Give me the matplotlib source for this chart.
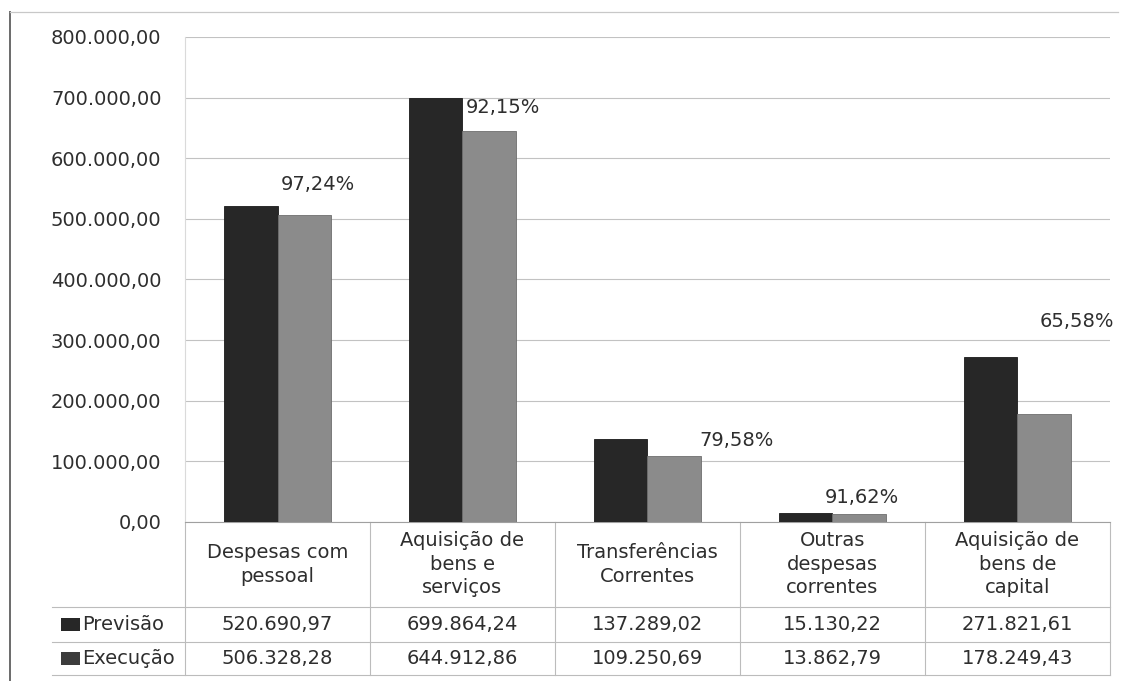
import numpy as np
import matplotlib
matplotlib.use("Agg")
import matplotlib.pyplot as plt
from matplotlib.patches import Rectangle
from matplotlib.lines import Line2D

categories = ["Despesas com\npessoal", "Aquisição de\nbens e\nserviços", "Transferências\nCorrentes",
              "Outras\ndespesas\ncorrentes", "Aquisição de\nbens de\ncapital"]
previsao = [520690.97, 699864.24, 137289.02, 15130.22, 271821.61]
execucao = [506328.28, 644912.86, 109250.69, 13862.79, 178249.43]
percent_labels = ["97,24%", "92,15%", "79,58%", "91,62%", "65,58%"]
series_names = ["Previsão", "Execução"]


def fmt(v):
    s = f"{v:,.2f}"
    return s.replace(",", "X").replace(".", ",").replace("X", ".")


plt.rcParams['font.family'] = ['DejaVu Sans']
fs = 14
txt = '#2e2e2e'
dark = '#272727'
grey = '#8b8b8b'
grid_c = '#c2c2c2'

fig = plt.figure(figsize=(11.24, 6.81), dpi=100)
ax = fig.add_axes([0.1646, 0.2335, 0.8229, 0.7122])

x = np.arange(len(categories))
w = 0.29
ax.bar(x - w / 2, previsao, w, color=dark, edgecolor='#1a1a1a', linewidth=0.6, zorder=3)
ax.bar(x + w / 2, execucao, w, color=grey, edgecolor='#6e6e6e', linewidth=0.6, zorder=3)

# percentage labels (hand-placed in the original)
lab_dx = [0.22, 0.22, 0.48, 0.16, 0.32]
lab_y = [556000, 683000, 135000, 41000, 330000]
for i, p in enumerate(percent_labels):
    ax.text(x[i] + lab_dx[i], lab_y[i], p, ha='center', va='center', fontsize=fs, color=txt)

ax.set_xlim(-0.5, len(categories) - 0.5)
ax.set_ylim(0, 800000)
ax.set_yticks(np.arange(0, 800001, 100000))
ax.set_yticklabels([fmt(v) for v in np.arange(0, 800001, 100000)], fontsize=fs, color=txt)
ax.tick_params(axis='y', length=0, pad=17)
ax.set_xticks([])
ax.grid(axis='y', color=grid_c, linewidth=0.8, zorder=0)
for s in ['top', 'right']:
    ax.spines[s].set_visible(False)
ax.spines['left'].set_color('#dadada')
ax.spines['bottom'].set_color('#a0a0a0')

# data table below the plot
rows_y = [0.0, -0.175, -0.247, -0.315]
tr = ax.get_xaxis_transform()
line_kw = dict(color='#bcbcbc', linewidth=0.8, transform=tr, clip_on=False)
for yv in rows_y[1:]:
    ax.add_line(Line2D([-1.22, len(categories) - 0.5], [yv, yv], **line_kw))
for b in np.arange(-0.5, len(categories), 1.0):
    ax.add_line(Line2D([b, b], [0, rows_y[-1]], **line_kw))

for i, c in enumerate(categories):
    ax.text(x[i], (rows_y[0] + rows_y[1]) / 2, c, ha='center', va='center', fontsize=fs,
            color=txt, transform=tr, linespacing=1.3)
    ax.text(x[i], (rows_y[1] + rows_y[2]) / 2, fmt(previsao[i]), ha='center', va='center',
            fontsize=fs, color=txt, transform=tr)
    ax.text(x[i], (rows_y[2] + rows_y[3]) / 2, fmt(execucao[i]), ha='center', va='center',
            fontsize=fs, color=txt, transform=tr)

for name, col, r in zip(series_names, [dark, '#3c3c3c'], [1, 2]):
    yc = (rows_y[r] + rows_y[r + 1]) / 2
    ax.add_patch(Rectangle((-1.17, yc - 0.013), 0.105, 0.026, facecolor=col,
                           edgecolor='none', transform=tr, clip_on=False))
    ax.text(-1.055, yc, name, ha='left', va='center', fontsize=fs, color=txt, transform=tr)

# outer chart frame: dark left edge, faint top edge
fig.add_artist(Line2D([0.009, 0.009], [0.0, 0.983], color='#6a6a6a', linewidth=1.4,
                      transform=fig.transFigure))
fig.add_artist(Line2D([0.009, 0.995], [0.983, 0.983], color='#c8c8c8', linewidth=0.9,
                      transform=fig.transFigure))

fig.savefig("out.png", dpi=100)
